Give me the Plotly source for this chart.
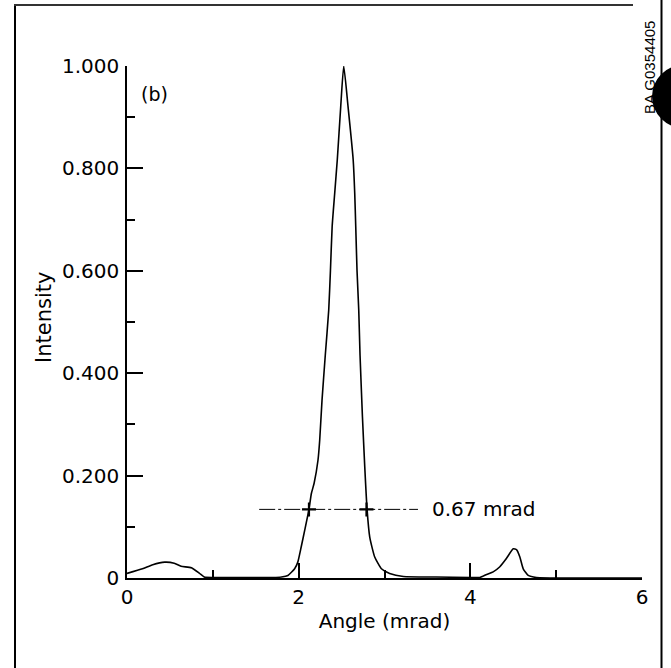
import plotly.graph_objects as go

# ---- data ----
angle = [0.00, 0.18, 0.30, 0.44, 0.55, 0.63, 0.75, 0.845, 0.90, 1.00, 1.20, 1.50, 1.70, 1.80,
         1.875, 1.953, 1.99, 2.03, 2.07, 2.12, 2.148, 2.18, 2.225, 2.245, 2.272, 2.31, 2.35,
         2.37, 2.39, 2.42, 2.45, 2.49, 2.525, 2.575, 2.635, 2.653, 2.665, 2.68, 2.70, 2.715,
         2.743, 2.77, 2.797, 2.828, 2.886, 2.964, 3.06, 3.22, 3.60, 4.00, 4.11, 4.19, 4.266,
         4.344, 4.42, 4.50, 4.54, 4.577, 4.616, 4.674, 4.77, 5.20, 6.00]
intensity = [0.009, 0.018, 0.026, 0.031, 0.029, 0.023, 0.020, 0.009, 0.002, 0.001, 0.001, 0.001,
             0.001, 0.002, 0.005, 0.018, 0.031, 0.061, 0.093, 0.134, 0.165, 0.185, 0.230, 0.269,
             0.347, 0.435, 0.523, 0.600, 0.686, 0.752, 0.817, 0.921, 1.000, 0.921, 0.817, 0.752,
             0.686, 0.600, 0.523, 0.435, 0.315, 0.217, 0.134, 0.080, 0.041, 0.018, 0.009, 0.003,
             0.002, 0.001, 0.001, 0.007, 0.012, 0.022, 0.038, 0.057, 0.055, 0.041, 0.018, 0.005,
             0.001, 0.000, 0.000]

fwhm_line_x = [1.54, 3.39]
fwhm_level = 0.134
fwhm_marks_x = [2.12, 2.79]
fwhm_label = "0.67 mrad"

y_tickvals = [0, 0.2, 0.4, 0.6, 0.8, 1.0]
y_ticktext = ["0", "0.200", "0.400", "0.600", "0.800", "1.000"]
x_tickvals = [0, 2, 4, 6]
x_ticktext = ["0", "2", "4", "6"]

# ---- layout geometry (page pixels; body margin removed via post_script) ----
W, H = 671, 668
PL, PR, PT, PB = 127, 642, 66, 578          # plot area edges in page pixels
ML, MT, MR, MB = PL, PT, W - PR, H - PB
PW, PH = PR - PL, PB - PT


def px(x):
    return (x - PL) / PW


def py(y):
    return (PB - y) / PH


def bar(x0, x1, y0, y1, color="black"):
    return dict(type="rect", xref="paper", yref="paper", x0=px(x0), x1=px(x1),
                y0=py(y1), y1=py(y0), fillcolor=color, line=dict(width=0), layer="above")


FONT = "DejaVu Sans"

fig = go.Figure()
fig.add_trace(go.Scatter(x=angle, y=intensity, mode="lines",
                         line=dict(color="black", width=1.6, shape="spline", smoothing=0.5),
                         showlegend=False, hoverinfo="skip"))
fig.add_trace(go.Scatter(x=fwhm_line_x, y=[fwhm_level] * len(fwhm_line_x), mode="lines",
                         line=dict(color="black", width=1, dash="16px,3px,3px,3px"),
                         showlegend=False, hoverinfo="skip"))
fig.add_trace(go.Scatter(x=fwhm_marks_x, y=[fwhm_level] * len(fwhm_marks_x), mode="markers",
                         marker=dict(symbol="cross-thin", size=10, line=dict(color="black", width=2.2)),
                         showlegend=False, hoverinfo="skip"))

shapes = [
    # outer frame pieces
    bar(14, 16, 4, 668),
    bar(14, 633, 4, 6, color="#333333"),
    bar(660.5, 662.5, 0, 668),
    # black dot at the top right
    dict(type="circle", xref="paper", yref="paper", x0=px(652), x1=px(715), y0=py(128), y1=py(65),
         fillcolor="black", line=dict(width=0), layer="above"),
]

annotations = [
    dict(text="(b)", xref="paper", yref="paper", x=px(154), y=py(94), showarrow=False,
         font=dict(family=FONT, size=19, color="black"), xanchor="center", yanchor="middle"),
    dict(text=fwhm_label, xref="x", yref="y", x=3.53, y=fwhm_level, showarrow=False,
         font=dict(family=FONT, size=20, color="black"), xanchor="left", yanchor="middle"),
    dict(text="Intensity", xref="paper", yref="paper", x=px(44), y=py(318), showarrow=False,
         textangle=-90, font=dict(family=FONT, size=21, color="black"),
         xanchor="center", yanchor="middle"),
    dict(text="BA G0354405", xref="paper", yref="paper", x=px(649), y=py(68), showarrow=False,
         textangle=-90, font=dict(family="Liberation Sans", size=15, color="black"),
         xanchor="center", yanchor="middle"),
]

fig.update_layout(
    width=W, height=H,
    margin=dict(l=ML, r=MR, t=MT, b=MB, pad=0),
    paper_bgcolor="white", plot_bgcolor="white",
    font=dict(family=FONT, size=20, color="black"),
    shapes=shapes, annotations=annotations,
    showlegend=False,
    xaxis=dict(range=[0, 6], showgrid=False, zeroline=False, showline=True,
               linecolor="black", linewidth=2, ticks="inside", ticklen=15, tickwidth=1.5,
               tickcolor="black", tickvals=x_tickvals, ticktext=x_ticktext,
               minor=dict(dtick=1, tick0=0, ticks="inside", ticklen=8, tickwidth=1.5,
                          tickcolor="black", showgrid=False),
               title=dict(text="Angle (mrad)", font=dict(family=FONT, size=20), standoff=6),
               tickfont=dict(family=FONT, size=20), ticklabelstandoff=0),
    yaxis=dict(range=[0, 1.0], showgrid=False, zeroline=False, showline=True,
               linecolor="black", linewidth=1.5, ticks="inside", ticklen=16, tickwidth=1.5,
               tickcolor="black", tickvals=y_tickvals, ticktext=y_ticktext,
               minor=dict(dtick=0.1, tick0=0, ticks="inside", ticklen=8, tickwidth=1.5,
                          tickcolor="black", showgrid=False),
               tickfont=dict(family=FONT, size=20), ticklabelstandoff=2),
)

fig.write_html("out.html", config={"displayModeBar": False},
               post_script="document.body.style.margin='0';document.body.style.overflow='hidden';")
